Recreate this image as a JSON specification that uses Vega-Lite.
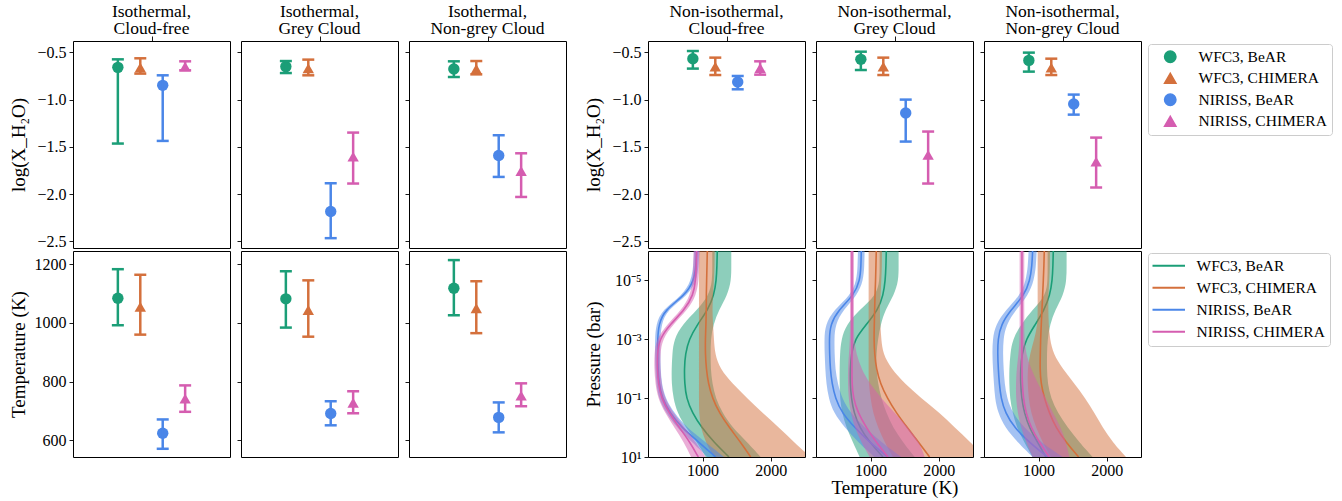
{
"$schema":"https://vega.github.io/schema/vega-lite/v6.json",
"background":"white",
"padding":{"left":8,"top":2,"right":5,"bottom":5},
"config":{
"font":"Liberation Serif",
"view":{"stroke":"black","strokeWidth":1},
"axis":{"domain":false,"grid":false,"tickColor":"black","tickSize":4,"tickWidth":0.9,"labelFont":"Liberation Serif","labelFontSize":16,"labelColor":"black","labelPadding":3,"titleFont":"Liberation Serif","titleFontSize":19,"titleFontWeight":"normal","titleColor":"black"},
"title":{"font":"Liberation Serif","fontSize":17.5,"fontWeight":"normal","color":"black","offset":-2,"lineHeight":17.5,"baseline":"alphabetic"},
"legend":{"labelFont":"Liberation Serif","labelFontSize":15.5,"labelColor":"black","strokeColor":"#cccccc","fillColor":"white","cornerRadius":3,"padding":5,"rowPadding":5}
},
"datasets":{
"xh":[
{"f":1,"i":0,"s":"WFC3, BeAR","v":-0.659,"lo":-1.465,"hi":-0.574},
{"f":1,"i":1,"s":"WFC3, CHIMERA","v":-0.66,"lo":-0.725,"hi":-0.563},
{"f":1,"i":2,"s":"NIRISS, BeAR","v":-0.849,"lo":-1.437,"hi":-0.743},
{"f":1,"i":3,"s":"NIRISS, CHIMERA","v":-0.651,"lo":-0.69,"hi":-0.595},
{"f":2,"i":0,"s":"WFC3, BeAR","v":-0.651,"lo":-0.719,"hi":-0.592},
{"f":2,"i":1,"s":"WFC3, CHIMERA","v":-0.669,"lo":-0.743,"hi":-0.577},
{"f":2,"i":2,"s":"NIRISS, BeAR","v":-2.184,"lo":-2.466,"hi":-1.885},
{"f":2,"i":3,"s":"NIRISS, CHIMERA","v":-1.603,"lo":-1.888,"hi":-1.349},
{"f":3,"i":0,"s":"WFC3, BeAR","v":-0.676,"lo":-0.761,"hi":-0.595},
{"f":3,"i":1,"s":"WFC3, CHIMERA","v":-0.676,"lo":-0.733,"hi":-0.592},
{"f":3,"i":2,"s":"NIRISS, BeAR","v":-1.592,"lo":-1.818,"hi":-1.377},
{"f":3,"i":3,"s":"NIRISS, CHIMERA","v":-1.755,"lo":-2.03,"hi":-1.568},
{"f":4,"i":0,"s":"WFC3, BeAR","v":-0.567,"lo":-0.672,"hi":-0.486},
{"f":4,"i":1,"s":"WFC3, CHIMERA","v":-0.651,"lo":-0.74,"hi":-0.556},
{"f":4,"i":2,"s":"NIRISS, BeAR","v":-0.814,"lo":-0.891,"hi":-0.75},
{"f":4,"i":3,"s":"NIRISS, CHIMERA","v":-0.666,"lo":-0.736,"hi":-0.595},
{"f":5,"i":0,"s":"WFC3, BeAR","v":-0.574,"lo":-0.687,"hi":-0.493},
{"f":5,"i":1,"s":"WFC3, CHIMERA","v":-0.651,"lo":-0.74,"hi":-0.556},
{"f":5,"i":2,"s":"NIRISS, BeAR","v":-1.141,"lo":-1.444,"hi":-1.0},
{"f":5,"i":3,"s":"NIRISS, CHIMERA","v":-1.585,"lo":-1.888,"hi":-1.338},
{"f":6,"i":0,"s":"WFC3, BeAR","v":-0.585,"lo":-0.704,"hi":-0.503},
{"f":6,"i":1,"s":"WFC3, CHIMERA","v":-0.662,"lo":-0.74,"hi":-0.567},
{"f":6,"i":2,"s":"NIRISS, BeAR","v":-1.046,"lo":-1.159,"hi":-0.947},
{"f":6,"i":3,"s":"NIRISS, CHIMERA","v":-1.656,"lo":-1.93,"hi":-1.402}
],
"tk":[
{"f":1,"i":0,"s":"WFC3, BeAR","v":1084,"lo":992,"hi":1183},
{"f":1,"i":1,"s":"WFC3, CHIMERA","v":1055,"lo":960,"hi":1164},
{"f":1,"i":2,"s":"NIRISS, BeAR","v":624,"lo":571,"hi":671},
{"f":1,"i":3,"s":"NIRISS, CHIMERA","v":742,"lo":697,"hi":787},
{"f":2,"i":0,"s":"WFC3, BeAR","v":1082,"lo":984,"hi":1176},
{"f":2,"i":1,"s":"WFC3, CHIMERA","v":1044,"lo":953,"hi":1145},
{"f":2,"i":2,"s":"NIRISS, BeAR","v":691,"lo":651,"hi":733},
{"f":2,"i":3,"s":"NIRISS, CHIMERA","v":728,"lo":692,"hi":767},
{"f":3,"i":0,"s":"WFC3, BeAR","v":1118,"lo":1026,"hi":1214},
{"f":3,"i":1,"s":"WFC3, CHIMERA","v":1050,"lo":965,"hi":1142},
{"f":3,"i":2,"s":"NIRISS, BeAR","v":678,"lo":627,"hi":729},
{"f":3,"i":3,"s":"NIRISS, CHIMERA","v":752,"lo":716,"hi":794}
],
"pr":[
{"f":4,"s":"WFC3, BeAR","p":1e-6,"t":1215,"lo":1142,"hi":1420},
{"f":4,"s":"WFC3, BeAR","p":3.162e-6,"t":1210,"lo":1142,"hi":1420},
{"f":4,"s":"WFC3, BeAR","p":1e-5,"t":1201,"lo":1142,"hi":1420},
{"f":4,"s":"WFC3, BeAR","p":3.162e-5,"t":1166,"lo":1093,"hi":1362},
{"f":4,"s":"WFC3, BeAR","p":1e-4,"t":1079,"lo":922,"hi":1240},
{"f":4,"s":"WFC3, BeAR","p":3.162e-4,"t":922,"lo":703,"hi":1157},
{"f":4,"s":"WFC3, BeAR","p":1e-3,"t":800,"lo":580,"hi":1118},
{"f":4,"s":"WFC3, BeAR","p":3.162e-3,"t":747,"lo":556,"hi":1118},
{"f":4,"s":"WFC3, BeAR","p":0.01,"t":732,"lo":546,"hi":1118},
{"f":4,"s":"WFC3, BeAR","p":0.03162,"t":737,"lo":546,"hi":1142},
{"f":4,"s":"WFC3, BeAR","p":0.1,"t":761,"lo":571,"hi":1191},
{"f":4,"s":"WFC3, BeAR","p":0.3162,"t":849,"lo":629,"hi":1289},
{"f":4,"s":"WFC3, BeAR","p":1,"t":986,"lo":751,"hi":1435},
{"f":4,"s":"WFC3, BeAR","p":3.162,"t":1166,"lo":922,"hi":1655},
{"f":4,"s":"WFC3, BeAR","p":10,"t":1386,"lo":1044,"hi":1850},
{"f":4,"s":"WFC3, CHIMERA","p":1e-6,"t":1069,"lo":947,"hi":1176},
{"f":4,"s":"WFC3, CHIMERA","p":3.162e-6,"t":1064,"lo":947,"hi":1176},
{"f":4,"s":"WFC3, CHIMERA","p":1e-5,"t":1059,"lo":947,"hi":1166},
{"f":4,"s":"WFC3, CHIMERA","p":3.162e-5,"t":1054,"lo":947,"hi":1152},
{"f":4,"s":"WFC3, CHIMERA","p":1e-4,"t":1054,"lo":947,"hi":1142},
{"f":4,"s":"WFC3, CHIMERA","p":3.162e-4,"t":1049,"lo":947,"hi":1152},
{"f":4,"s":"WFC3, CHIMERA","p":1e-3,"t":1040,"lo":947,"hi":1166},
{"f":4,"s":"WFC3, CHIMERA","p":3.162e-3,"t":1040,"lo":947,"hi":1181},
{"f":4,"s":"WFC3, CHIMERA","p":0.01,"t":1054,"lo":947,"hi":1254},
{"f":4,"s":"WFC3, CHIMERA","p":0.03162,"t":1083,"lo":947,"hi":1435},
{"f":4,"s":"WFC3, CHIMERA","p":0.1,"t":1142,"lo":947,"hi":1655},
{"f":4,"s":"WFC3, CHIMERA","p":0.3162,"t":1245,"lo":947,"hi":1874},
{"f":4,"s":"WFC3, CHIMERA","p":1,"t":1391,"lo":971,"hi":2119},
{"f":4,"s":"WFC3, CHIMERA","p":3.162,"t":1557,"lo":1044,"hi":2338},
{"f":4,"s":"WFC3, CHIMERA","p":10,"t":1704,"lo":1166,"hi":2582},
{"f":4,"s":"NIRISS, BeAR","p":1e-6,"t":912,"lo":873,"hi":951},
{"f":4,"s":"NIRISS, BeAR","p":3.162e-6,"t":903,"lo":864,"hi":942},
{"f":4,"s":"NIRISS, BeAR","p":1e-5,"t":873,"lo":834,"hi":912},
{"f":4,"s":"NIRISS, BeAR","p":3.162e-5,"t":746,"lo":707,"hi":785},
{"f":4,"s":"NIRISS, BeAR","p":1e-4,"t":444,"lo":405,"hi":483},
{"f":4,"s":"NIRISS, BeAR","p":3.162e-4,"t":356,"lo":317,"hi":395},
{"f":4,"s":"NIRISS, BeAR","p":1e-3,"t":341,"lo":302,"hi":380},
{"f":4,"s":"NIRISS, BeAR","p":3.162e-3,"t":341,"lo":302,"hi":380},
{"f":4,"s":"NIRISS, BeAR","p":0.01,"t":346,"lo":307,"hi":385},
{"f":4,"s":"NIRISS, BeAR","p":0.03162,"t":361,"lo":322,"hi":400},
{"f":4,"s":"NIRISS, BeAR","p":0.1,"t":405,"lo":356,"hi":454},
{"f":4,"s":"NIRISS, BeAR","p":0.3162,"t":522,"lo":463,"hi":581},
{"f":4,"s":"NIRISS, BeAR","p":1,"t":693,"lo":620,"hi":766},
{"f":4,"s":"NIRISS, BeAR","p":3.162,"t":947,"lo":849,"hi":1045},
{"f":4,"s":"NIRISS, BeAR","p":10,"t":1191,"lo":1069,"hi":1313},
{"f":4,"s":"NIRISS, CHIMERA","p":1e-6,"t":912,"lo":868,"hi":956},
{"f":4,"s":"NIRISS, CHIMERA","p":3.162e-6,"t":908,"lo":864,"hi":952},
{"f":4,"s":"NIRISS, CHIMERA","p":1e-5,"t":898,"lo":854,"hi":942},
{"f":4,"s":"NIRISS, CHIMERA","p":3.162e-5,"t":864,"lo":820,"hi":908},
{"f":4,"s":"NIRISS, CHIMERA","p":1e-4,"t":737,"lo":693,"hi":781},
{"f":4,"s":"NIRISS, CHIMERA","p":3.162e-4,"t":522,"lo":478,"hi":566},
{"f":4,"s":"NIRISS, CHIMERA","p":1e-3,"t":366,"lo":322,"hi":410},
{"f":4,"s":"NIRISS, CHIMERA","p":3.162e-3,"t":336,"lo":292,"hi":380},
{"f":4,"s":"NIRISS, CHIMERA","p":0.01,"t":336,"lo":292,"hi":380},
{"f":4,"s":"NIRISS, CHIMERA","p":0.03162,"t":351,"lo":307,"hi":395},
{"f":4,"s":"NIRISS, CHIMERA","p":0.1,"t":395,"lo":346,"hi":444},
{"f":4,"s":"NIRISS, CHIMERA","p":0.3162,"t":507,"lo":448,"hi":566},
{"f":4,"s":"NIRISS, CHIMERA","p":1,"t":659,"lo":586,"hi":732},
{"f":4,"s":"NIRISS, CHIMERA","p":3.162,"t":815,"lo":727,"hi":903},
{"f":4,"s":"NIRISS, CHIMERA","p":10,"t":937,"lo":830,"hi":1044},
{"f":5,"s":"WFC3, BeAR","p":1e-6,"t":1230,"lo":1132,"hi":1410},
{"f":5,"s":"WFC3, BeAR","p":3.162e-6,"t":1225,"lo":1132,"hi":1410},
{"f":5,"s":"WFC3, BeAR","p":1e-5,"t":1215,"lo":1132,"hi":1410},
{"f":5,"s":"WFC3, BeAR","p":3.162e-5,"t":1186,"lo":1083,"hi":1342},
{"f":5,"s":"WFC3, BeAR","p":1e-4,"t":1108,"lo":839,"hi":1215},
{"f":5,"s":"WFC3, BeAR","p":3.162e-4,"t":937,"lo":644,"hi":1147},
{"f":5,"s":"WFC3, BeAR","p":1e-3,"t":766,"lo":570,"hi":1108},
{"f":5,"s":"WFC3, BeAR","p":3.162e-3,"t":717,"lo":551,"hi":1083},
{"f":5,"s":"WFC3, BeAR","p":0.01,"t":702,"lo":546,"hi":1083},
{"f":5,"s":"WFC3, BeAR","p":0.03162,"t":702,"lo":546,"hi":1108},
{"f":5,"s":"WFC3, BeAR","p":0.1,"t":717,"lo":551,"hi":1156},
{"f":5,"s":"WFC3, BeAR","p":0.3162,"t":756,"lo":580,"hi":1230},
{"f":5,"s":"WFC3, BeAR","p":1,"t":839,"lo":644,"hi":1327},
{"f":5,"s":"WFC3, BeAR","p":3.162,"t":986,"lo":741,"hi":1474},
{"f":5,"s":"WFC3, BeAR","p":10,"t":1181,"lo":839,"hi":1645},
{"f":5,"s":"WFC3, CHIMERA","p":1e-6,"t":1083,"lo":971,"hi":1166},
{"f":5,"s":"WFC3, CHIMERA","p":3.162e-6,"t":1078,"lo":971,"hi":1166},
{"f":5,"s":"WFC3, CHIMERA","p":1e-5,"t":1073,"lo":971,"hi":1156},
{"f":5,"s":"WFC3, CHIMERA","p":3.162e-5,"t":1064,"lo":971,"hi":1147},
{"f":5,"s":"WFC3, CHIMERA","p":1e-4,"t":1059,"lo":971,"hi":1132},
{"f":5,"s":"WFC3, CHIMERA","p":3.162e-4,"t":1054,"lo":971,"hi":1142},
{"f":5,"s":"WFC3, CHIMERA","p":1e-3,"t":1049,"lo":971,"hi":1156},
{"f":5,"s":"WFC3, CHIMERA","p":3.162e-3,"t":1059,"lo":971,"hi":1181},
{"f":5,"s":"WFC3, CHIMERA","p":0.01,"t":1083,"lo":971,"hi":1303},
{"f":5,"s":"WFC3, CHIMERA","p":0.03162,"t":1142,"lo":971,"hi":1498},
{"f":5,"s":"WFC3, CHIMERA","p":0.1,"t":1244,"lo":1000,"hi":1742},
{"f":5,"s":"WFC3, CHIMERA","p":0.3162,"t":1376,"lo":1034,"hi":2011},
{"f":5,"s":"WFC3, CHIMERA","p":1,"t":1537,"lo":1108,"hi":2231},
{"f":5,"s":"WFC3, CHIMERA","p":3.162,"t":1703,"lo":1205,"hi":2465},
{"f":5,"s":"WFC3, CHIMERA","p":10,"t":1864,"lo":1327,"hi":2670},
{"f":5,"s":"NIRISS, BeAR","p":1e-6,"t":863,"lo":814,"hi":912},
{"f":5,"s":"NIRISS, BeAR","p":3.162e-6,"t":859,"lo":810,"hi":908},
{"f":5,"s":"NIRISS, BeAR","p":1e-5,"t":844,"lo":795,"hi":893},
{"f":5,"s":"NIRISS, BeAR","p":3.162e-5,"t":756,"lo":707,"hi":805},
{"f":5,"s":"NIRISS, BeAR","p":1e-4,"t":531,"lo":463,"hi":599},
{"f":5,"s":"NIRISS, BeAR","p":3.162e-4,"t":409,"lo":336,"hi":482},
{"f":5,"s":"NIRISS, BeAR","p":1e-3,"t":395,"lo":322,"hi":468},
{"f":5,"s":"NIRISS, BeAR","p":3.162e-3,"t":400,"lo":327,"hi":473},
{"f":5,"s":"NIRISS, BeAR","p":0.01,"t":409,"lo":336,"hi":482},
{"f":5,"s":"NIRISS, BeAR","p":0.03162,"t":434,"lo":351,"hi":517},
{"f":5,"s":"NIRISS, BeAR","p":0.1,"t":483,"lo":385,"hi":581},
{"f":5,"s":"NIRISS, BeAR","p":0.3162,"t":580,"lo":458,"hi":702},
{"f":5,"s":"NIRISS, BeAR","p":1,"t":766,"lo":620,"hi":912},
{"f":5,"s":"NIRISS, BeAR","p":3.162,"t":986,"lo":815,"hi":1157},
{"f":5,"s":"NIRISS, BeAR","p":10,"t":1254,"lo":1059,"hi":1449},
{"f":5,"s":"NIRISS, CHIMERA","p":1e-6,"t":727,"lo":698,"hi":756},
{"f":5,"s":"NIRISS, CHIMERA","p":3.162e-6,"t":727,"lo":698,"hi":756},
{"f":5,"s":"NIRISS, CHIMERA","p":1e-5,"t":727,"lo":698,"hi":756},
{"f":5,"s":"NIRISS, CHIMERA","p":3.162e-5,"t":727,"lo":698,"hi":756},
{"f":5,"s":"NIRISS, CHIMERA","p":1e-4,"t":727,"lo":698,"hi":756},
{"f":5,"s":"NIRISS, CHIMERA","p":3.162e-4,"t":727,"lo":698,"hi":756},
{"f":5,"s":"NIRISS, CHIMERA","p":1e-3,"t":727,"lo":698,"hi":756},
{"f":5,"s":"NIRISS, CHIMERA","p":3.162e-3,"t":727,"lo":683,"hi":790},
{"f":5,"s":"NIRISS, CHIMERA","p":0.01,"t":727,"lo":668,"hi":863},
{"f":5,"s":"NIRISS, CHIMERA","p":0.03162,"t":727,"lo":668,"hi":986},
{"f":5,"s":"NIRISS, CHIMERA","p":0.1,"t":746,"lo":678,"hi":1156},
{"f":5,"s":"NIRISS, CHIMERA","p":0.3162,"t":815,"lo":707,"hi":1352},
{"f":5,"s":"NIRISS, CHIMERA","p":1,"t":937,"lo":766,"hi":1547},
{"f":5,"s":"NIRISS, CHIMERA","p":3.162,"t":1083,"lo":863,"hi":1718},
{"f":5,"s":"NIRISS, CHIMERA","p":10,"t":1254,"lo":986,"hi":1791},
{"f":6,"s":"WFC3, BeAR","p":1e-6,"t":1215,"lo":1132,"hi":1410},
{"f":6,"s":"WFC3, BeAR","p":3.162e-6,"t":1210,"lo":1132,"hi":1410},
{"f":6,"s":"WFC3, BeAR","p":1e-5,"t":1200,"lo":1132,"hi":1410},
{"f":6,"s":"WFC3, BeAR","p":3.162e-5,"t":1166,"lo":1108,"hi":1362},
{"f":6,"s":"WFC3, BeAR","p":1e-4,"t":1083,"lo":912,"hi":1244},
{"f":6,"s":"WFC3, BeAR","p":3.162e-4,"t":951,"lo":741,"hi":1166},
{"f":6,"s":"WFC3, BeAR","p":1e-3,"t":815,"lo":619,"hi":1132},
{"f":6,"s":"WFC3, BeAR","p":3.162e-3,"t":756,"lo":585,"hi":1122},
{"f":6,"s":"WFC3, BeAR","p":0.01,"t":736,"lo":570,"hi":1122},
{"f":6,"s":"WFC3, BeAR","p":0.03162,"t":736,"lo":570,"hi":1132},
{"f":6,"s":"WFC3, BeAR","p":0.1,"t":751,"lo":580,"hi":1181},
{"f":6,"s":"WFC3, BeAR","p":0.3162,"t":790,"lo":619,"hi":1279},
{"f":6,"s":"WFC3, BeAR","p":1,"t":863,"lo":678,"hi":1425},
{"f":6,"s":"WFC3, BeAR","p":3.162,"t":986,"lo":790,"hi":1596},
{"f":6,"s":"WFC3, BeAR","p":10,"t":1108,"lo":912,"hi":1791},
{"f":6,"s":"WFC3, CHIMERA","p":1e-6,"t":1083,"lo":986,"hi":1166},
{"f":6,"s":"WFC3, CHIMERA","p":3.162e-6,"t":1078,"lo":986,"hi":1166},
{"f":6,"s":"WFC3, CHIMERA","p":1e-5,"t":1069,"lo":986,"hi":1156},
{"f":6,"s":"WFC3, CHIMERA","p":3.162e-5,"t":1059,"lo":986,"hi":1142},
{"f":6,"s":"WFC3, CHIMERA","p":1e-4,"t":1049,"lo":986,"hi":1142},
{"f":6,"s":"WFC3, CHIMERA","p":3.162e-4,"t":1039,"lo":986,"hi":1147},
{"f":6,"s":"WFC3, CHIMERA","p":1e-3,"t":1029,"lo":937,"hi":1166},
{"f":6,"s":"WFC3, CHIMERA","p":3.162e-3,"t":1025,"lo":873,"hi":1215},
{"f":6,"s":"WFC3, CHIMERA","p":0.01,"t":1020,"lo":839,"hi":1352},
{"f":6,"s":"WFC3, CHIMERA","p":0.03162,"t":1034,"lo":839,"hi":1523},
{"f":6,"s":"WFC3, CHIMERA","p":0.1,"t":1083,"lo":854,"hi":1684},
{"f":6,"s":"WFC3, CHIMERA","p":0.3162,"t":1156,"lo":888,"hi":1816},
{"f":6,"s":"WFC3, CHIMERA","p":1,"t":1254,"lo":961,"hi":1938},
{"f":6,"s":"WFC3, CHIMERA","p":3.162,"t":1401,"lo":1059,"hi":2084},
{"f":6,"s":"WFC3, CHIMERA","p":10,"t":1586,"lo":1181,"hi":2280},
{"f":6,"s":"NIRISS, BeAR","p":1e-6,"t":912,"lo":853,"hi":971},
{"f":6,"s":"NIRISS, BeAR","p":3.162e-6,"t":903,"lo":844,"hi":962},
{"f":6,"s":"NIRISS, BeAR","p":1e-5,"t":873,"lo":814,"hi":932},
{"f":6,"s":"NIRISS, BeAR","p":3.162e-5,"t":790,"lo":731,"hi":849},
{"f":6,"s":"NIRISS, BeAR","p":1e-4,"t":595,"lo":522,"hi":668},
{"f":6,"s":"NIRISS, BeAR","p":3.162e-4,"t":448,"lo":370,"hi":526},
{"f":6,"s":"NIRISS, BeAR","p":1e-3,"t":404,"lo":326,"hi":482},
{"f":6,"s":"NIRISS, BeAR","p":3.162e-3,"t":400,"lo":322,"hi":478},
{"f":6,"s":"NIRISS, BeAR","p":0.01,"t":409,"lo":331,"hi":487},
{"f":6,"s":"NIRISS, BeAR","p":0.03162,"t":424,"lo":346,"hi":502},
{"f":6,"s":"NIRISS, BeAR","p":0.1,"t":448,"lo":360,"hi":536},
{"f":6,"s":"NIRISS, BeAR","p":0.3162,"t":512,"lo":405,"hi":619},
{"f":6,"s":"NIRISS, BeAR","p":1,"t":644,"lo":507,"hi":781},
{"f":6,"s":"NIRISS, BeAR","p":3.162,"t":863,"lo":692,"hi":1034},
{"f":6,"s":"NIRISS, BeAR","p":10,"t":1132,"lo":912,"hi":1352},
{"f":6,"s":"NIRISS, CHIMERA","p":1e-6,"t":756,"lo":722,"hi":790},
{"f":6,"s":"NIRISS, CHIMERA","p":3.162e-6,"t":756,"lo":722,"hi":790},
{"f":6,"s":"NIRISS, CHIMERA","p":1e-5,"t":756,"lo":722,"hi":790},
{"f":6,"s":"NIRISS, CHIMERA","p":3.162e-5,"t":756,"lo":722,"hi":790},
{"f":6,"s":"NIRISS, CHIMERA","p":1e-4,"t":756,"lo":722,"hi":790},
{"f":6,"s":"NIRISS, CHIMERA","p":3.162e-4,"t":756,"lo":722,"hi":790},
{"f":6,"s":"NIRISS, CHIMERA","p":1e-3,"t":756,"lo":722,"hi":790},
{"f":6,"s":"NIRISS, CHIMERA","p":3.162e-3,"t":756,"lo":707,"hi":815},
{"f":6,"s":"NIRISS, CHIMERA","p":0.01,"t":756,"lo":678,"hi":888},
{"f":6,"s":"NIRISS, CHIMERA","p":0.03162,"t":761,"lo":668,"hi":986},
{"f":6,"s":"NIRISS, CHIMERA","p":0.1,"t":776,"lo":668,"hi":1108},
{"f":6,"s":"NIRISS, CHIMERA","p":0.3162,"t":815,"lo":693,"hi":1205},
{"f":6,"s":"NIRISS, CHIMERA","p":1,"t":888,"lo":741,"hi":1327},
{"f":6,"s":"NIRISS, CHIMERA","p":3.162,"t":1010,"lo":815,"hi":1401},
{"f":6,"s":"NIRISS, CHIMERA","p":10,"t":1156,"lo":912,"hi":1450}
]
},
"resolve":{"legend":{"color":"independent","shape":"independent","stroke":"independent"}},
"spacing":0,
"vconcat":[
{"spacing":16,"resolve":{"legend":{"color":"independent","shape":"independent","stroke":"independent"}},
"hconcat":[
{"spacing":5,"resolve":{"legend":{"color":"independent","shape":"independent","stroke":"independent"}},
"hconcat":[
{"width":157,"height":207,"title":{"text":["Isothermal,","Cloud-free"]},"data":{"name":"xh"},"transform":[{"filter":"datum.f==1"}],
"layer":[
{"mark":{"type":"point","filled":true,"size":130,"opacity":1},"encoding":{"x":{"field":"i","type":"quantitative","scale":{"domain":[-2,5],"nice":false},"axis":{"orient":"top","values":[1.5],"labels":false,"title":null,"tickSize":5,"minExtent":0,"maxExtent":5}},"y":{"field":"v","type":"quantitative","scale":{"domain":[-2.57,-0.38],"nice":false},"axis":{"title":"log(X_H₂O)","values":[-2.5,-2,-1.5,-1,-0.5],"format":".1f","minExtent":40,"maxExtent":40,"titlePadding":5,"labelFont":"Liberation Serif","titleFont":"Liberation Serif"}},"color":{"field":"s","type":"nominal","scale":{"domain":["WFC3, BeAR","WFC3, CHIMERA","NIRISS, BeAR","NIRISS, CHIMERA"],"range":["#1b9e77","#d4703c","#4a86e8","#d55db0"]},"legend":null},"shape":{"field":"s","type":"nominal","scale":{"domain":["WFC3, BeAR","WFC3, CHIMERA","NIRISS, BeAR","NIRISS, CHIMERA"],"range":["circle","triangle-up","circle","triangle-up"]},"legend":null}}},
{"mark":{"type":"rule","strokeWidth":2.5},"encoding":{"x":{"field":"i","type":"quantitative","scale":{"domain":[-2,5],"nice":false}},"y":{"field":"lo","type":"quantitative","scale":{"domain":[-2.57,-0.38],"nice":false}},"y2":{"field":"hi"},"color":{"field":"s","type":"nominal","legend":null}}},
{"mark":{"type":"tick","orient":"horizontal","size":12,"thickness":2.5,"opacity":1},"encoding":{"x":{"field":"i","type":"quantitative","scale":{"domain":[-2,5],"nice":false}},"y":{"field":"lo","type":"quantitative","scale":{"domain":[-2.57,-0.38],"nice":false}},"color":{"field":"s","type":"nominal","legend":null}}},
{"mark":{"type":"tick","orient":"horizontal","size":12,"thickness":2.5,"opacity":1},"encoding":{"x":{"field":"i","type":"quantitative","scale":{"domain":[-2,5],"nice":false}},"y":{"field":"hi","type":"quantitative","scale":{"domain":[-2.57,-0.38],"nice":false}},"color":{"field":"s","type":"nominal","legend":null}}}
]},
{"width":157,"height":207,"title":{"text":["Isothermal,","Grey Cloud"]},"data":{"name":"xh"},"transform":[{"filter":"datum.f==2"}],
"layer":[
{"mark":{"type":"point","filled":true,"size":130,"opacity":1},"encoding":{"x":{"field":"i","type":"quantitative","scale":{"domain":[-2,5],"nice":false},"axis":{"orient":"top","values":[1.5],"labels":false,"title":null,"tickSize":5,"minExtent":0,"maxExtent":5}},"y":{"field":"v","type":"quantitative","scale":{"domain":[-2.57,-0.38],"nice":false},"axis":{"title":null,"labels":false,"values":[-2.5,-2,-1.5,-1,-0.5],"minExtent":0,"maxExtent":4}},"color":{"field":"s","type":"nominal","scale":{"domain":["WFC3, BeAR","WFC3, CHIMERA","NIRISS, BeAR","NIRISS, CHIMERA"],"range":["#1b9e77","#d4703c","#4a86e8","#d55db0"]},"legend":null},"shape":{"field":"s","type":"nominal","scale":{"domain":["WFC3, BeAR","WFC3, CHIMERA","NIRISS, BeAR","NIRISS, CHIMERA"],"range":["circle","triangle-up","circle","triangle-up"]},"legend":null}}},
{"mark":{"type":"rule","strokeWidth":2.5},"encoding":{"x":{"field":"i","type":"quantitative","scale":{"domain":[-2,5],"nice":false}},"y":{"field":"lo","type":"quantitative","scale":{"domain":[-2.57,-0.38],"nice":false}},"y2":{"field":"hi"},"color":{"field":"s","type":"nominal","legend":null}}},
{"mark":{"type":"tick","orient":"horizontal","size":12,"thickness":2.5,"opacity":1},"encoding":{"x":{"field":"i","type":"quantitative","scale":{"domain":[-2,5],"nice":false}},"y":{"field":"lo","type":"quantitative","scale":{"domain":[-2.57,-0.38],"nice":false}},"color":{"field":"s","type":"nominal","legend":null}}},
{"mark":{"type":"tick","orient":"horizontal","size":12,"thickness":2.5,"opacity":1},"encoding":{"x":{"field":"i","type":"quantitative","scale":{"domain":[-2,5],"nice":false}},"y":{"field":"hi","type":"quantitative","scale":{"domain":[-2.57,-0.38],"nice":false}},"color":{"field":"s","type":"nominal","legend":null}}}
]},
{"width":157,"height":207,"title":{"text":["Isothermal,","Non-grey Cloud"]},"data":{"name":"xh"},"transform":[{"filter":"datum.f==3"}],
"layer":[
{"mark":{"type":"point","filled":true,"size":130,"opacity":1},"encoding":{"x":{"field":"i","type":"quantitative","scale":{"domain":[-2,5],"nice":false},"axis":{"orient":"top","values":[1.5],"labels":false,"title":null,"tickSize":5,"minExtent":0,"maxExtent":5}},"y":{"field":"v","type":"quantitative","scale":{"domain":[-2.57,-0.38],"nice":false},"axis":{"title":null,"labels":false,"values":[-2.5,-2,-1.5,-1,-0.5],"minExtent":0,"maxExtent":4}},"color":{"field":"s","type":"nominal","scale":{"domain":["WFC3, BeAR","WFC3, CHIMERA","NIRISS, BeAR","NIRISS, CHIMERA"],"range":["#1b9e77","#d4703c","#4a86e8","#d55db0"]},"legend":null},"shape":{"field":"s","type":"nominal","scale":{"domain":["WFC3, BeAR","WFC3, CHIMERA","NIRISS, BeAR","NIRISS, CHIMERA"],"range":["circle","triangle-up","circle","triangle-up"]},"legend":null}}},
{"mark":{"type":"rule","strokeWidth":2.5},"encoding":{"x":{"field":"i","type":"quantitative","scale":{"domain":[-2,5],"nice":false}},"y":{"field":"lo","type":"quantitative","scale":{"domain":[-2.57,-0.38],"nice":false}},"y2":{"field":"hi"},"color":{"field":"s","type":"nominal","legend":null}}},
{"mark":{"type":"tick","orient":"horizontal","size":12,"thickness":2.5,"opacity":1},"encoding":{"x":{"field":"i","type":"quantitative","scale":{"domain":[-2,5],"nice":false}},"y":{"field":"lo","type":"quantitative","scale":{"domain":[-2.57,-0.38],"nice":false}},"color":{"field":"s","type":"nominal","legend":null}}},
{"mark":{"type":"tick","orient":"horizontal","size":12,"thickness":2.5,"opacity":1},"encoding":{"x":{"field":"i","type":"quantitative","scale":{"domain":[-2,5],"nice":false}},"y":{"field":"hi","type":"quantitative","scale":{"domain":[-2.57,-0.38],"nice":false}},"color":{"field":"s","type":"nominal","legend":null}}}
]}
]},
{"spacing":5,"resolve":{"legend":{"color":"independent","shape":"independent","stroke":"independent"}},
"hconcat":[
{"width":157,"height":207,"title":{"text":["Non-isothermal,","Cloud-free"]},"data":{"name":"xh"},"transform":[{"filter":"datum.f==4"}],
"layer":[
{"mark":{"type":"point","filled":true,"size":130,"opacity":1},"encoding":{"x":{"field":"i","type":"quantitative","scale":{"domain":[-2,5],"nice":false},"axis":{"orient":"top","values":[1.5],"labels":false,"title":null,"tickSize":5,"minExtent":0,"maxExtent":5}},"y":{"field":"v","type":"quantitative","scale":{"domain":[-2.57,-0.38],"nice":false},"axis":{"title":"log(X_H₂O)","values":[-2.5,-2,-1.5,-1,-0.5],"format":".1f","minExtent":40,"maxExtent":40,"titlePadding":5,"labelFont":"Liberation Serif","titleFont":"Liberation Serif"}},"color":{"field":"s","type":"nominal","scale":{"domain":["WFC3, BeAR","WFC3, CHIMERA","NIRISS, BeAR","NIRISS, CHIMERA"],"range":["#1b9e77","#d4703c","#4a86e8","#d55db0"]},"legend":null},"shape":{"field":"s","type":"nominal","scale":{"domain":["WFC3, BeAR","WFC3, CHIMERA","NIRISS, BeAR","NIRISS, CHIMERA"],"range":["circle","triangle-up","circle","triangle-up"]},"legend":null}}},
{"mark":{"type":"rule","strokeWidth":2.5},"encoding":{"x":{"field":"i","type":"quantitative","scale":{"domain":[-2,5],"nice":false}},"y":{"field":"lo","type":"quantitative","scale":{"domain":[-2.57,-0.38],"nice":false}},"y2":{"field":"hi"},"color":{"field":"s","type":"nominal","legend":null}}},
{"mark":{"type":"tick","orient":"horizontal","size":12,"thickness":2.5,"opacity":1},"encoding":{"x":{"field":"i","type":"quantitative","scale":{"domain":[-2,5],"nice":false}},"y":{"field":"lo","type":"quantitative","scale":{"domain":[-2.57,-0.38],"nice":false}},"color":{"field":"s","type":"nominal","legend":null}}},
{"mark":{"type":"tick","orient":"horizontal","size":12,"thickness":2.5,"opacity":1},"encoding":{"x":{"field":"i","type":"quantitative","scale":{"domain":[-2,5],"nice":false}},"y":{"field":"hi","type":"quantitative","scale":{"domain":[-2.57,-0.38],"nice":false}},"color":{"field":"s","type":"nominal","legend":null}}}
]},
{"width":157,"height":207,"title":{"text":["Non-isothermal,","Grey Cloud"]},"data":{"name":"xh"},"transform":[{"filter":"datum.f==5"}],
"layer":[
{"mark":{"type":"point","filled":true,"size":130,"opacity":1},"encoding":{"x":{"field":"i","type":"quantitative","scale":{"domain":[-2,5],"nice":false},"axis":{"orient":"top","values":[1.5],"labels":false,"title":null,"tickSize":5,"minExtent":0,"maxExtent":5}},"y":{"field":"v","type":"quantitative","scale":{"domain":[-2.57,-0.38],"nice":false},"axis":{"title":null,"labels":false,"values":[-2.5,-2,-1.5,-1,-0.5],"minExtent":0,"maxExtent":4}},"color":{"field":"s","type":"nominal","scale":{"domain":["WFC3, BeAR","WFC3, CHIMERA","NIRISS, BeAR","NIRISS, CHIMERA"],"range":["#1b9e77","#d4703c","#4a86e8","#d55db0"]},"legend":null},"shape":{"field":"s","type":"nominal","scale":{"domain":["WFC3, BeAR","WFC3, CHIMERA","NIRISS, BeAR","NIRISS, CHIMERA"],"range":["circle","triangle-up","circle","triangle-up"]},"legend":null}}},
{"mark":{"type":"rule","strokeWidth":2.5},"encoding":{"x":{"field":"i","type":"quantitative","scale":{"domain":[-2,5],"nice":false}},"y":{"field":"lo","type":"quantitative","scale":{"domain":[-2.57,-0.38],"nice":false}},"y2":{"field":"hi"},"color":{"field":"s","type":"nominal","legend":null}}},
{"mark":{"type":"tick","orient":"horizontal","size":12,"thickness":2.5,"opacity":1},"encoding":{"x":{"field":"i","type":"quantitative","scale":{"domain":[-2,5],"nice":false}},"y":{"field":"lo","type":"quantitative","scale":{"domain":[-2.57,-0.38],"nice":false}},"color":{"field":"s","type":"nominal","legend":null}}},
{"mark":{"type":"tick","orient":"horizontal","size":12,"thickness":2.5,"opacity":1},"encoding":{"x":{"field":"i","type":"quantitative","scale":{"domain":[-2,5],"nice":false}},"y":{"field":"hi","type":"quantitative","scale":{"domain":[-2.57,-0.38],"nice":false}},"color":{"field":"s","type":"nominal","legend":null}}}
]},
{"width":157,"height":207,"title":{"text":["Non-isothermal,","Non-grey Cloud"]},"data":{"name":"xh"},"transform":[{"filter":"datum.f==6"}],
"layer":[
{"mark":{"type":"point","filled":true,"size":130,"opacity":1},"encoding":{"x":{"field":"i","type":"quantitative","scale":{"domain":[-2,5],"nice":false},"axis":{"orient":"top","values":[1.5],"labels":false,"title":null,"tickSize":5,"minExtent":0,"maxExtent":5}},"y":{"field":"v","type":"quantitative","scale":{"domain":[-2.57,-0.38],"nice":false},"axis":{"title":null,"labels":false,"values":[-2.5,-2,-1.5,-1,-0.5],"minExtent":0,"maxExtent":4}},"color":{"field":"s","type":"nominal","scale":{"domain":["WFC3, BeAR","WFC3, CHIMERA","NIRISS, BeAR","NIRISS, CHIMERA"],"range":["#1b9e77","#d4703c","#4a86e8","#d55db0"]},"legend":{"title":null,"orient":"none","legendX":164,"legendY":3,"symbolSize":130,"symbolOffset":9.5,"labelOffset":20.5,"labelFont":"Liberation Serif","labelFontSize":15.5,"padding":5,"rowPadding":3.5}},"shape":{"field":"s","type":"nominal","scale":{"domain":["WFC3, BeAR","WFC3, CHIMERA","NIRISS, BeAR","NIRISS, CHIMERA"],"range":["circle","triangle-up","circle","triangle-up"]},"legend":{"title":null,"orient":"none","legendX":164,"legendY":3,"symbolSize":130,"symbolOffset":9.5,"labelOffset":20.5,"labelFont":"Liberation Serif","labelFontSize":15.5,"padding":5,"rowPadding":3.5}}}},
{"mark":{"type":"rule","strokeWidth":2.5},"encoding":{"x":{"field":"i","type":"quantitative","scale":{"domain":[-2,5],"nice":false}},"y":{"field":"lo","type":"quantitative","scale":{"domain":[-2.57,-0.38],"nice":false}},"y2":{"field":"hi"},"color":{"field":"s","type":"nominal","legend":null}}},
{"mark":{"type":"tick","orient":"horizontal","size":12,"thickness":2.5,"opacity":1},"encoding":{"x":{"field":"i","type":"quantitative","scale":{"domain":[-2,5],"nice":false}},"y":{"field":"lo","type":"quantitative","scale":{"domain":[-2.57,-0.38],"nice":false}},"color":{"field":"s","type":"nominal","legend":null}}},
{"mark":{"type":"tick","orient":"horizontal","size":12,"thickness":2.5,"opacity":1},"encoding":{"x":{"field":"i","type":"quantitative","scale":{"domain":[-2,5],"nice":false}},"y":{"field":"hi","type":"quantitative","scale":{"domain":[-2.57,-0.38],"nice":false}},"color":{"field":"s","type":"nominal","legend":null}}}
]}
]}
]},
{"spacing":16,"resolve":{"legend":{"color":"independent","shape":"independent","stroke":"independent"}},
"hconcat":[
{"spacing":5,"resolve":{"legend":{"color":"independent","shape":"independent","stroke":"independent"}},
"hconcat":[
{"width":157,"height":206,"data":{"name":"tk"},"transform":[{"filter":"datum.f==1"}],
"layer":[
{"mark":{"type":"point","filled":true,"size":130,"opacity":1},"encoding":{"x":{"field":"i","type":"quantitative","scale":{"domain":[-2,5],"nice":false},"axis":null},"y":{"field":"v","type":"quantitative","scale":{"domain":[543,1245],"nice":false},"axis":{"title":"Temperature (K)","values":[600,800,1000,1200],"format":"d","minExtent":40,"maxExtent":40,"titlePadding":5,"labelFont":"Liberation Serif","titleFont":"Liberation Serif"}},"color":{"field":"s","type":"nominal","scale":{"domain":["WFC3, BeAR","WFC3, CHIMERA","NIRISS, BeAR","NIRISS, CHIMERA"],"range":["#1b9e77","#d4703c","#4a86e8","#d55db0"]},"legend":null},"shape":{"field":"s","type":"nominal","scale":{"domain":["WFC3, BeAR","WFC3, CHIMERA","NIRISS, BeAR","NIRISS, CHIMERA"],"range":["circle","triangle-up","circle","triangle-up"]},"legend":null}}},
{"mark":{"type":"rule","strokeWidth":2.5},"encoding":{"x":{"field":"i","type":"quantitative","scale":{"domain":[-2,5],"nice":false}},"y":{"field":"lo","type":"quantitative","scale":{"domain":[543,1245],"nice":false}},"y2":{"field":"hi"},"color":{"field":"s","type":"nominal","legend":null}}},
{"mark":{"type":"tick","orient":"horizontal","size":12,"thickness":2.5,"opacity":1},"encoding":{"x":{"field":"i","type":"quantitative","scale":{"domain":[-2,5],"nice":false}},"y":{"field":"lo","type":"quantitative","scale":{"domain":[543,1245],"nice":false}},"color":{"field":"s","type":"nominal","legend":null}}},
{"mark":{"type":"tick","orient":"horizontal","size":12,"thickness":2.5,"opacity":1},"encoding":{"x":{"field":"i","type":"quantitative","scale":{"domain":[-2,5],"nice":false}},"y":{"field":"hi","type":"quantitative","scale":{"domain":[543,1245],"nice":false}},"color":{"field":"s","type":"nominal","legend":null}}}
]},
{"width":157,"height":206,"data":{"name":"tk"},"transform":[{"filter":"datum.f==2"}],
"layer":[
{"mark":{"type":"point","filled":true,"size":130,"opacity":1},"encoding":{"x":{"field":"i","type":"quantitative","scale":{"domain":[-2,5],"nice":false},"axis":null},"y":{"field":"v","type":"quantitative","scale":{"domain":[543,1245],"nice":false},"axis":{"title":null,"labels":false,"values":[600,800,1000,1200],"minExtent":0,"maxExtent":4}},"color":{"field":"s","type":"nominal","scale":{"domain":["WFC3, BeAR","WFC3, CHIMERA","NIRISS, BeAR","NIRISS, CHIMERA"],"range":["#1b9e77","#d4703c","#4a86e8","#d55db0"]},"legend":null},"shape":{"field":"s","type":"nominal","scale":{"domain":["WFC3, BeAR","WFC3, CHIMERA","NIRISS, BeAR","NIRISS, CHIMERA"],"range":["circle","triangle-up","circle","triangle-up"]},"legend":null}}},
{"mark":{"type":"rule","strokeWidth":2.5},"encoding":{"x":{"field":"i","type":"quantitative","scale":{"domain":[-2,5],"nice":false}},"y":{"field":"lo","type":"quantitative","scale":{"domain":[543,1245],"nice":false}},"y2":{"field":"hi"},"color":{"field":"s","type":"nominal","legend":null}}},
{"mark":{"type":"tick","orient":"horizontal","size":12,"thickness":2.5,"opacity":1},"encoding":{"x":{"field":"i","type":"quantitative","scale":{"domain":[-2,5],"nice":false}},"y":{"field":"lo","type":"quantitative","scale":{"domain":[543,1245],"nice":false}},"color":{"field":"s","type":"nominal","legend":null}}},
{"mark":{"type":"tick","orient":"horizontal","size":12,"thickness":2.5,"opacity":1},"encoding":{"x":{"field":"i","type":"quantitative","scale":{"domain":[-2,5],"nice":false}},"y":{"field":"hi","type":"quantitative","scale":{"domain":[543,1245],"nice":false}},"color":{"field":"s","type":"nominal","legend":null}}}
]},
{"width":157,"height":206,"data":{"name":"tk"},"transform":[{"filter":"datum.f==3"}],
"layer":[
{"mark":{"type":"point","filled":true,"size":130,"opacity":1},"encoding":{"x":{"field":"i","type":"quantitative","scale":{"domain":[-2,5],"nice":false},"axis":null},"y":{"field":"v","type":"quantitative","scale":{"domain":[543,1245],"nice":false},"axis":{"title":null,"labels":false,"values":[600,800,1000,1200],"minExtent":0,"maxExtent":4}},"color":{"field":"s","type":"nominal","scale":{"domain":["WFC3, BeAR","WFC3, CHIMERA","NIRISS, BeAR","NIRISS, CHIMERA"],"range":["#1b9e77","#d4703c","#4a86e8","#d55db0"]},"legend":null},"shape":{"field":"s","type":"nominal","scale":{"domain":["WFC3, BeAR","WFC3, CHIMERA","NIRISS, BeAR","NIRISS, CHIMERA"],"range":["circle","triangle-up","circle","triangle-up"]},"legend":null}}},
{"mark":{"type":"rule","strokeWidth":2.5},"encoding":{"x":{"field":"i","type":"quantitative","scale":{"domain":[-2,5],"nice":false}},"y":{"field":"lo","type":"quantitative","scale":{"domain":[543,1245],"nice":false}},"y2":{"field":"hi"},"color":{"field":"s","type":"nominal","legend":null}}},
{"mark":{"type":"tick","orient":"horizontal","size":12,"thickness":2.5,"opacity":1},"encoding":{"x":{"field":"i","type":"quantitative","scale":{"domain":[-2,5],"nice":false}},"y":{"field":"lo","type":"quantitative","scale":{"domain":[543,1245],"nice":false}},"color":{"field":"s","type":"nominal","legend":null}}},
{"mark":{"type":"tick","orient":"horizontal","size":12,"thickness":2.5,"opacity":1},"encoding":{"x":{"field":"i","type":"quantitative","scale":{"domain":[-2,5],"nice":false}},"y":{"field":"hi","type":"quantitative","scale":{"domain":[543,1245],"nice":false}},"color":{"field":"s","type":"nominal","legend":null}}}
]}
]},
{"spacing":5,"resolve":{"legend":{"color":"independent","shape":"independent","stroke":"independent"}},
"hconcat":[
{"width":157,"height":206,"data":{"name":"pr"},"transform":[{"filter":"datum.f==4"}],
"layer":[
{"transform":[{"filter":"datum.s=='WFC3, BeAR'"}],"mark":{"type":"area","orient":"horizontal","interpolate":"basis","color":"#1b9e77","opacity":0.5,"clip":true},"encoding":{"y":{"field":"p","type":"quantitative","scale":{"type":"log","domain":[1e-6,10],"reverse":true,"nice":false},"axis":{"title":"Pressure (bar)","values":[1e-5,0.001,0.1,10],"labelExpr":"datum.value < 3e-5 ? '10⁻⁵' : datum.value < 3e-3 ? '10⁻³' : datum.value < 0.3 ? '10⁻¹' : '10¹'","minExtent":40,"maxExtent":40,"titlePadding":5,"labelFont":"Liberation Serif","titleFont":"Liberation Serif"}},"x":{"field":"lo","type":"quantitative","scale":{"domain":[200,2500],"nice":false},"axis":{"title":null,"values":[1000,2000],"format":"d","labelPadding":1.5,"labelFont":"Liberation Serif"}},"x2":{"field":"hi"}}},
{"transform":[{"filter":"datum.s=='WFC3, BeAR'"}],"mark":{"type":"line","orient":"horizontal","interpolate":"basis","color":"#1b9e77","strokeWidth":1.6,"clip":true},"encoding":{"y":{"field":"p","type":"quantitative","scale":{"type":"log","domain":[1e-6,10],"reverse":true,"nice":false}},"x":{"field":"t","type":"quantitative","scale":{"domain":[200,2500],"nice":false}},"order":{"field":"p","type":"quantitative"}}},
{"transform":[{"filter":"datum.s=='WFC3, CHIMERA'"}],"mark":{"type":"area","orient":"horizontal","interpolate":"basis","color":"#d4703c","opacity":0.5,"clip":true},"encoding":{"y":{"field":"p","type":"quantitative","scale":{"type":"log","domain":[1e-6,10],"reverse":true,"nice":false}},"x":{"field":"lo","type":"quantitative","scale":{"domain":[200,2500],"nice":false}},"x2":{"field":"hi"}}},
{"transform":[{"filter":"datum.s=='WFC3, CHIMERA'"}],"mark":{"type":"line","orient":"horizontal","interpolate":"basis","color":"#d4703c","strokeWidth":1.6,"clip":true},"encoding":{"y":{"field":"p","type":"quantitative","scale":{"type":"log","domain":[1e-6,10],"reverse":true,"nice":false}},"x":{"field":"t","type":"quantitative","scale":{"domain":[200,2500],"nice":false}},"order":{"field":"p","type":"quantitative"}}},
{"transform":[{"filter":"datum.s=='NIRISS, BeAR'"}],"mark":{"type":"area","orient":"horizontal","interpolate":"basis","color":"#4a86e8","opacity":0.5,"clip":true},"encoding":{"y":{"field":"p","type":"quantitative","scale":{"type":"log","domain":[1e-6,10],"reverse":true,"nice":false}},"x":{"field":"lo","type":"quantitative","scale":{"domain":[200,2500],"nice":false}},"x2":{"field":"hi"}}},
{"transform":[{"filter":"datum.s=='NIRISS, BeAR'"}],"mark":{"type":"line","orient":"horizontal","interpolate":"basis","color":"#4a86e8","strokeWidth":1.6,"clip":true},"encoding":{"y":{"field":"p","type":"quantitative","scale":{"type":"log","domain":[1e-6,10],"reverse":true,"nice":false}},"x":{"field":"t","type":"quantitative","scale":{"domain":[200,2500],"nice":false}},"order":{"field":"p","type":"quantitative"}}},
{"transform":[{"filter":"datum.s=='NIRISS, CHIMERA'"}],"mark":{"type":"area","orient":"horizontal","interpolate":"basis","color":"#d55db0","opacity":0.5,"clip":true},"encoding":{"y":{"field":"p","type":"quantitative","scale":{"type":"log","domain":[1e-6,10],"reverse":true,"nice":false}},"x":{"field":"lo","type":"quantitative","scale":{"domain":[200,2500],"nice":false}},"x2":{"field":"hi"}}},
{"transform":[{"filter":"datum.s=='NIRISS, CHIMERA'"}],"mark":{"type":"line","orient":"horizontal","interpolate":"basis","color":"#d55db0","strokeWidth":1.6,"clip":true},"encoding":{"y":{"field":"p","type":"quantitative","scale":{"type":"log","domain":[1e-6,10],"reverse":true,"nice":false}},"x":{"field":"t","type":"quantitative","scale":{"domain":[200,2500],"nice":false}},"order":{"field":"p","type":"quantitative"}}}
]},
{"width":157,"height":206,"data":{"name":"pr"},"transform":[{"filter":"datum.f==5"}],
"layer":[
{"transform":[{"filter":"datum.s=='WFC3, BeAR'"}],"mark":{"type":"area","orient":"horizontal","interpolate":"basis","color":"#1b9e77","opacity":0.5,"clip":true},"encoding":{"y":{"field":"p","type":"quantitative","scale":{"type":"log","domain":[1e-6,10],"reverse":true,"nice":false},"axis":{"title":null,"labels":false,"values":[1e-5,0.001,0.1,10],"minExtent":0,"maxExtent":4}},"x":{"field":"lo","type":"quantitative","scale":{"domain":[200,2500],"nice":false},"axis":{"title":"Temperature (K)","values":[1000,2000],"format":"d","labelPadding":1.5,"titlePadding":0,"labelFont":"Liberation Serif","titleFont":"Liberation Serif"}},"x2":{"field":"hi"}}},
{"transform":[{"filter":"datum.s=='WFC3, BeAR'"}],"mark":{"type":"line","orient":"horizontal","interpolate":"basis","color":"#1b9e77","strokeWidth":1.6,"clip":true},"encoding":{"y":{"field":"p","type":"quantitative","scale":{"type":"log","domain":[1e-6,10],"reverse":true,"nice":false}},"x":{"field":"t","type":"quantitative","scale":{"domain":[200,2500],"nice":false}},"order":{"field":"p","type":"quantitative"}}},
{"transform":[{"filter":"datum.s=='WFC3, CHIMERA'"}],"mark":{"type":"area","orient":"horizontal","interpolate":"basis","color":"#d4703c","opacity":0.5,"clip":true},"encoding":{"y":{"field":"p","type":"quantitative","scale":{"type":"log","domain":[1e-6,10],"reverse":true,"nice":false}},"x":{"field":"lo","type":"quantitative","scale":{"domain":[200,2500],"nice":false}},"x2":{"field":"hi"}}},
{"transform":[{"filter":"datum.s=='WFC3, CHIMERA'"}],"mark":{"type":"line","orient":"horizontal","interpolate":"basis","color":"#d4703c","strokeWidth":1.6,"clip":true},"encoding":{"y":{"field":"p","type":"quantitative","scale":{"type":"log","domain":[1e-6,10],"reverse":true,"nice":false}},"x":{"field":"t","type":"quantitative","scale":{"domain":[200,2500],"nice":false}},"order":{"field":"p","type":"quantitative"}}},
{"transform":[{"filter":"datum.s=='NIRISS, BeAR'"}],"mark":{"type":"area","orient":"horizontal","interpolate":"basis","color":"#4a86e8","opacity":0.5,"clip":true},"encoding":{"y":{"field":"p","type":"quantitative","scale":{"type":"log","domain":[1e-6,10],"reverse":true,"nice":false}},"x":{"field":"lo","type":"quantitative","scale":{"domain":[200,2500],"nice":false}},"x2":{"field":"hi"}}},
{"transform":[{"filter":"datum.s=='NIRISS, BeAR'"}],"mark":{"type":"line","orient":"horizontal","interpolate":"basis","color":"#4a86e8","strokeWidth":1.6,"clip":true},"encoding":{"y":{"field":"p","type":"quantitative","scale":{"type":"log","domain":[1e-6,10],"reverse":true,"nice":false}},"x":{"field":"t","type":"quantitative","scale":{"domain":[200,2500],"nice":false}},"order":{"field":"p","type":"quantitative"}}},
{"transform":[{"filter":"datum.s=='NIRISS, CHIMERA'"}],"mark":{"type":"area","orient":"horizontal","interpolate":"basis","color":"#d55db0","opacity":0.5,"clip":true},"encoding":{"y":{"field":"p","type":"quantitative","scale":{"type":"log","domain":[1e-6,10],"reverse":true,"nice":false}},"x":{"field":"lo","type":"quantitative","scale":{"domain":[200,2500],"nice":false}},"x2":{"field":"hi"}}},
{"transform":[{"filter":"datum.s=='NIRISS, CHIMERA'"}],"mark":{"type":"line","orient":"horizontal","interpolate":"basis","color":"#d55db0","strokeWidth":1.6,"clip":true},"encoding":{"y":{"field":"p","type":"quantitative","scale":{"type":"log","domain":[1e-6,10],"reverse":true,"nice":false}},"x":{"field":"t","type":"quantitative","scale":{"domain":[200,2500],"nice":false}},"order":{"field":"p","type":"quantitative"}}}
]},
{"width":157,"height":206,"data":{"name":"pr"},"transform":[{"filter":"datum.f==6"}],
"layer":[
{"transform":[{"filter":"datum.s=='WFC3, BeAR'"}],"mark":{"type":"area","orient":"horizontal","interpolate":"basis","color":"#1b9e77","opacity":0.5,"clip":true},"encoding":{"y":{"field":"p","type":"quantitative","scale":{"type":"log","domain":[1e-6,10],"reverse":true,"nice":false},"axis":{"title":null,"labels":false,"values":[1e-5,0.001,0.1,10],"minExtent":0,"maxExtent":4}},"x":{"field":"lo","type":"quantitative","scale":{"domain":[200,2500],"nice":false},"axis":{"title":null,"values":[1000,2000],"format":"d","labelPadding":1.5,"labelFont":"Liberation Serif"}},"x2":{"field":"hi"}}},
{"transform":[{"filter":"datum.s=='WFC3, BeAR'"}],"mark":{"type":"line","orient":"horizontal","interpolate":"basis","color":"#1b9e77","strokeWidth":1.6,"clip":true},"encoding":{"y":{"field":"p","type":"quantitative","scale":{"type":"log","domain":[1e-6,10],"reverse":true,"nice":false}},"x":{"field":"t","type":"quantitative","scale":{"domain":[200,2500],"nice":false}},"order":{"field":"p","type":"quantitative"},"stroke":{"field":"s","type":"nominal","scale":{"domain":["WFC3, BeAR","WFC3, CHIMERA","NIRISS, BeAR","NIRISS, CHIMERA"],"range":["#1b9e77","#d4703c","#4a86e8","#d55db0"]},"legend":{"title":null,"orient":"none","legendX":164,"legendY":2,"symbolType":"M-2.5,0H2.5","symbolSize":169,"symbolStrokeWidth":2,"symbolOffset":8,"labelOffset":20,"labelFont":"Liberation Serif","labelFontSize":15.5,"padding":5,"rowPadding":5}}}},
{"transform":[{"filter":"datum.s=='WFC3, CHIMERA'"}],"mark":{"type":"area","orient":"horizontal","interpolate":"basis","color":"#d4703c","opacity":0.5,"clip":true},"encoding":{"y":{"field":"p","type":"quantitative","scale":{"type":"log","domain":[1e-6,10],"reverse":true,"nice":false}},"x":{"field":"lo","type":"quantitative","scale":{"domain":[200,2500],"nice":false}},"x2":{"field":"hi"}}},
{"transform":[{"filter":"datum.s=='WFC3, CHIMERA'"}],"mark":{"type":"line","orient":"horizontal","interpolate":"basis","color":"#d4703c","strokeWidth":1.6,"clip":true},"encoding":{"y":{"field":"p","type":"quantitative","scale":{"type":"log","domain":[1e-6,10],"reverse":true,"nice":false}},"x":{"field":"t","type":"quantitative","scale":{"domain":[200,2500],"nice":false}},"order":{"field":"p","type":"quantitative"}}},
{"transform":[{"filter":"datum.s=='NIRISS, BeAR'"}],"mark":{"type":"area","orient":"horizontal","interpolate":"basis","color":"#4a86e8","opacity":0.5,"clip":true},"encoding":{"y":{"field":"p","type":"quantitative","scale":{"type":"log","domain":[1e-6,10],"reverse":true,"nice":false}},"x":{"field":"lo","type":"quantitative","scale":{"domain":[200,2500],"nice":false}},"x2":{"field":"hi"}}},
{"transform":[{"filter":"datum.s=='NIRISS, BeAR'"}],"mark":{"type":"line","orient":"horizontal","interpolate":"basis","color":"#4a86e8","strokeWidth":1.6,"clip":true},"encoding":{"y":{"field":"p","type":"quantitative","scale":{"type":"log","domain":[1e-6,10],"reverse":true,"nice":false}},"x":{"field":"t","type":"quantitative","scale":{"domain":[200,2500],"nice":false}},"order":{"field":"p","type":"quantitative"}}},
{"transform":[{"filter":"datum.s=='NIRISS, CHIMERA'"}],"mark":{"type":"area","orient":"horizontal","interpolate":"basis","color":"#d55db0","opacity":0.5,"clip":true},"encoding":{"y":{"field":"p","type":"quantitative","scale":{"type":"log","domain":[1e-6,10],"reverse":true,"nice":false}},"x":{"field":"lo","type":"quantitative","scale":{"domain":[200,2500],"nice":false}},"x2":{"field":"hi"}}},
{"transform":[{"filter":"datum.s=='NIRISS, CHIMERA'"}],"mark":{"type":"line","orient":"horizontal","interpolate":"basis","color":"#d55db0","strokeWidth":1.6,"clip":true},"encoding":{"y":{"field":"p","type":"quantitative","scale":{"type":"log","domain":[1e-6,10],"reverse":true,"nice":false}},"x":{"field":"t","type":"quantitative","scale":{"domain":[200,2500],"nice":false}},"order":{"field":"p","type":"quantitative"}}}
]}
]}
]}
]
}
